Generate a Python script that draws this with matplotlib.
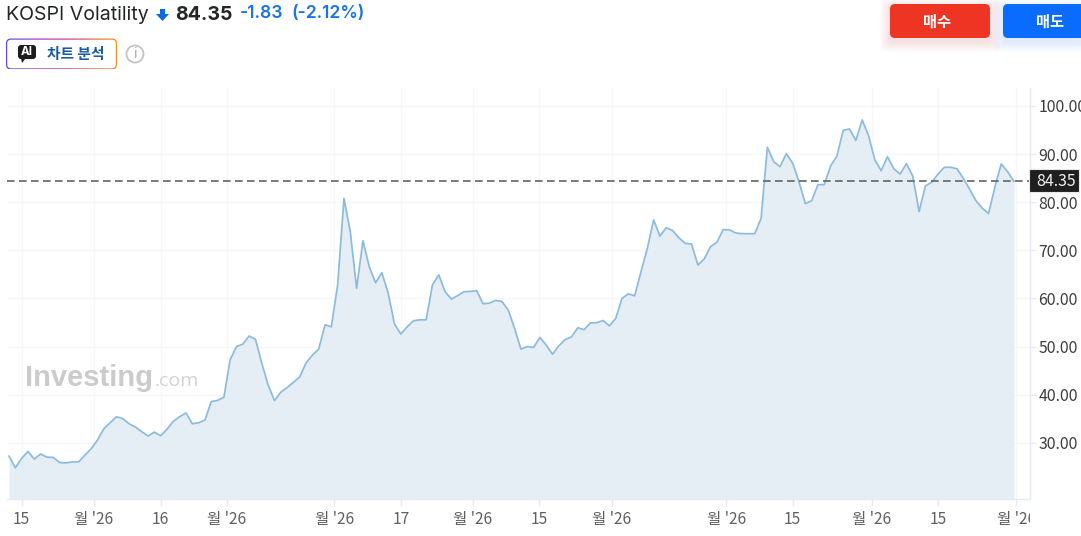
import numpy as np
import matplotlib
matplotlib.use("Agg")
import matplotlib.pyplot as plt
from matplotlib.patches import FancyBboxPatch, Circle, Polygon
from matplotlib.transforms import Bbox

KR_FONT = "Noto Sans CJK KR"
plt.rcParams["font.family"] = [KR_FONT, "DejaVu Sans"]

# index values, oldest first
volatility = [
    27.2, 24.8, 26.75, 28.2, 26.6, 27.65, 27.0, 26.95, 25.9, 25.8,
    26.0, 26.0, 27.4, 28.75, 30.55, 32.9, 34.15, 35.4, 35.0, 33.95,
    33.25, 32.3, 31.4, 32.2, 31.45, 32.8, 34.45, 35.4, 36.2, 33.95,
    34.15, 34.7, 38.55, 38.8, 39.45, 47.3, 50.0, 50.5, 52.2, 51.5,
    46.5, 42.0, 38.75, 40.5, 41.45, 42.55, 43.7, 46.6, 48.2, 49.45,
    54.5, 54.1, 62.8, 80.8, 73.85, 62.1, 72.0, 66.6, 63.25, 65.35,
    61.05, 54.65, 52.6, 54.1, 55.35, 55.55, 55.55, 62.8, 64.9, 61.4,
    59.85, 60.6, 61.4, 61.45, 61.6, 58.9, 59.0, 59.6, 59.35, 57.55,
    53.75, 49.45, 50.0, 49.8, 51.9, 50.3, 48.4, 50.15, 51.45, 52.0,
    53.9, 53.5, 54.9, 54.95, 55.4, 54.3, 55.85, 60.0, 60.95, 60.55,
    65.55, 70.4, 76.3, 72.95, 74.7, 74.1, 72.6, 71.45, 71.3, 66.95,
    68.2, 70.75, 71.65, 74.3, 74.25, 73.6, 73.45, 73.45, 73.45, 76.65,
    91.4, 88.4, 87.4, 90.1, 88.1, 84.25, 79.7, 80.3, 83.65, 83.65,
    87.55, 89.6, 94.95, 95.2, 92.85, 97.1, 93.85, 88.8, 86.55, 89.45,
    86.95, 85.85, 88.0, 85.45, 78.05, 83.4, 84.15, 85.85, 87.25, 87.25,
    86.95, 84.95, 82.7, 80.3, 78.75, 77.65, 83.2, 87.95, 86.35, 84.35,
]
last_price = 84.35
y_ticks = [30, 40, 50, 60, 70, 80, 90, 100]
x_tick_pos = [2, 13.45, 24, 34.46, 51.5, 62, 73.4, 83.9, 95.4, 113.5, 124, 136.5, 147, 159.4]
x_tick_labels = ["15", "월 '26", "16", "월 '26", "월 '26", "17", "월 '26", "15",
                 "월 '26", "월 '26", "15", "월 '26", "15", "월 '26"]

W, H = 1081, 536
fig = plt.figure(figsize=(W / 100, H / 100), dpi=100)

# main chart, axes box given in pixels of the picture
left, right, top, bottom = 7, 1030, 88, 499
ax = fig.add_axes([left / W, 1 - bottom / H, (right - left) / W, (bottom - top) / H])
days = np.arange(len(volatility))
ax.fill_between(days, volatility, 0, color="#e5edf5", lw=0, zorder=2)
ax.plot(days, volatility, color="#8cbbdd", lw=1.25, zorder=3)
ax.axhline(last_price, color="#646464", lw=1.2, ls=(0, (4.6, 2.6)), zorder=4)
ax.set_xlim(-0.32, 161.55)
ax.set_ylim(18.3, 103.74)

ax.yaxis.tick_right()
ax.set_yticks(y_ticks)
ax.set_yticklabels(["%.2f" % v for v in y_ticks], fontsize=11.4, color="#3c3c3c")
ax.set_xticks(x_tick_pos)
ax.set_xticklabels(x_tick_labels, fontsize=11.2, color="#5f5f5f")
ax.tick_params(axis="y", length=4, width=1, color="#e6ebf2", pad=2)
ax.tick_params(axis="x", length=5, width=1, color="#e6ebf2", pad=3.5)
ax.grid(True, color="#f6f7f9", lw=1, zorder=1)
ax.set_axisbelow(True)
for side in ["top", "left"]:
    ax.spines[side].set_visible(False)
for side in ["right", "bottom"]:
    ax.spines[side].set_color("#e6ebf2")
    ax.spines[side].set_linewidth(1)

# last tick label is cut off at the edge of the plot
ax.get_xticklabels()[-1].set_clip_box(Bbox([[0, 0], [right, H]]))
ax.get_xticklabels()[-1].set_clip_on(True)

# overlay for the page furniture, coordinates are picture pixels
ui = fig.add_axes([0, 0, 1, 1], zorder=5)
ui.set_xlim(0, W)
ui.set_ylim(H, 0)
ui.axis("off")
ui.patch.set_alpha(0)

# last price tag on the axis
ui.add_patch(FancyBboxPatch((1029, 169), 50, 23, boxstyle="square,pad=0",
                            fc="#1f1f1f", ec="#e8e8e8", lw=0.8))
ui.text(1056, 181.5, "84.35", color="#f2f2f2", fontsize=11.4, ha="center", va="center")

# header
ui.text(6, 14.5, "KOSPI Volatility", family="Inter", fontsize=14.1, color="#232526", va="center")
ui.add_patch(Polygon([[160, 9], [165, 9], [165, 14], [169, 14], [162.5, 21], [156, 14], [160, 14]],
                     fc="#0a69e0", ec="none"))
ui.text(175, 14.5, "84.35", family="Inter", fontsize=14, weight="bold", color="#232526", va="center")
ui.text(240, 14, "-1.83", family="Inter", fontsize=12.6, weight="semibold", color="#1a73e8", va="center")
ui.text(291, 14, "(-2.12%)", family="Inter", fontsize=12.6, weight="semibold", color="#1a73e8", va="center")

# AI button with a gradient outline
grad = np.linspace(0, 1, 256)
stops = np.array([[0.38, 0.27, 0.95], [0.85, 0.2, 0.55], [1.0, 0.55, 0.1]])
colors = np.stack([np.interp(grad, [0, 0.55, 1], stops[:, c]) for c in range(3)], axis=1)[None, :, :]
border = FancyBboxPatch((6, 38.5), 111, 31, boxstyle="round,pad=0,rounding_size=5",
                        fc="none", ec="none", transform=ui.transData)
ui.add_patch(border)
img = ui.imshow(colors, extent=(6, 117, 69.5, 38.5), aspect="auto", zorder=2)
img.set_clip_path(border)
ui.set_xlim(0, W)
ui.set_ylim(H, 0)
ui.add_patch(FancyBboxPatch((7.2, 39.7), 108.6, 28.6, boxstyle="round,pad=0,rounding_size=4",
                            fc="white", ec="none", zorder=3))
ui.add_patch(FancyBboxPatch((18, 45), 18, 14, boxstyle="round,pad=0,rounding_size=3",
                            fc="#1c1c1c", ec="none", zorder=4))
ui.add_patch(Polygon([[21, 58], [26, 58], [22, 63]], fc="#1c1c1c", ec="none", zorder=4))
ui.text(27, 52, "AI", family="Inter", fontsize=8.4, weight="bold", color="white",
        ha="center", va="center", zorder=5)
ui.text(76, 53.5, "차트 분석", fontsize=10.6, weight="bold", color="#1a5a9e",
        ha="center", va="center", zorder=5)
ui.add_patch(Circle((135, 54), 8.5, fc="white", ec="#c4c4c4", lw=1.3))
ui.text(135, 54, "i", family="Inter", fontsize=10, color="#a8a8a8", ha="center", va="center")

# buy and sell buttons with a soft shadow
for x0, width, face, shadow, label in [(890, 100, "#ee3524", "#ee3524", "매수"),
                                       (1003, 90, "#0a6cff", "#0a6cff", "매도")]:
    for grow in range(1, 11):
        ui.add_patch(FancyBboxPatch((x0 - grow, 4 + 4 - grow), width + 2 * grow, 34 + 2 * grow,
                                    boxstyle="round,pad=0,rounding_size=5", fc=shadow,
                                    ec="none", alpha=0.012))
    ui.add_patch(FancyBboxPatch((x0, 4), width, 34, boxstyle="round,pad=0,rounding_size=5",
                                fc=face, ec="none"))
    ui.text(x0 + 47.5 if label == "매수" else 1050, 22, label, fontsize=11, weight="bold",
            color="white", ha="center", va="center")

# watermark
ui.text(25, 378, "Investing", family="Liberation Sans", fontsize=21, weight="bold",
        color="#cbcbcb", va="center", zorder=6)
ui.text(155, 381, ".com", family="Open Sans", fontsize=14, color="#d2d2d2", va="center", zorder=6)

fig.savefig("out.png", dpi=100)
